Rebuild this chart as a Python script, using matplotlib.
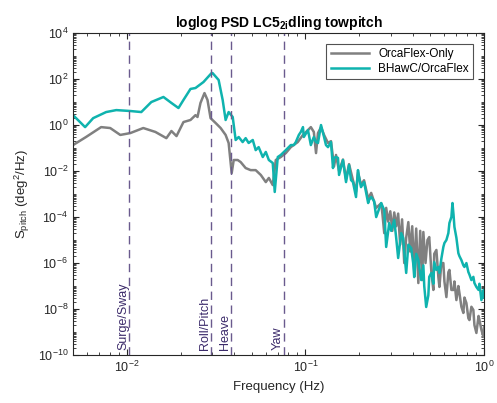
import numpy as np
import matplotlib
matplotlib.use("Agg")
import matplotlib.pyplot as plt
from matplotlib.ticker import LogLocator, NullFormatter

plt.rcParams['font.family'] = ['Liberation Sans', 'DejaVu Sans']
plt.rcParams['mathtext.fontset'] = 'custom'
plt.rcParams['mathtext.rm'] = 'Liberation Sans'
plt.rcParams['mathtext.it'] = 'Liberation Sans:italic'
plt.rcParams['mathtext.bf'] = 'Liberation Sans:bold'

# ---------------- data (frequency in Hz, PSD as log10 of deg^2/Hz) ----------------
orca_freq = [0.00500, 0.00591, 0.00718, 0.00807, 0.00919, 0.01045, 0.01236, 0.01445,
             0.01665, 0.01777, 0.01897, 0.02075, 0.02272, 0.02423, 0.02487, 0.02584,
             0.02721, 0.02829, 0.02943, 0.03140, 0.03351, 0.03573, 0.03715, 0.03864,
             0.03966, 0.04175, 0.04339, 0.04626, 0.04933, 0.05265, 0.05623, 0.05998,
             0.06237, 0.06561, 0.06823, 0.07278, 0.07762, 0.08279, 0.09057, 0.09683,
             0.1033, 0.1072, 0.1114, 0.1146, 0.1175, 0.1222, 0.1271, 0.1337, 0.1390,
             0.1445, 0.1483, 0.1542, 0.1622, 0.1687, 0.1754, 0.1845, 0.1919, 0.1968,
             0.2046, 0.2128, 0.2244, 0.2333, 0.2489, 0.2655, 0.2700, 0.2761, 0.2831,
             0.2904, 0.2985, 0.3065, 0.3141, 0.3222, 0.3304, 0.3390, 0.3475, 0.3573,
             0.3664, 0.3767, 0.3860, 0.3960, 0.4064, 0.4169, 0.4285, 0.4390, 0.4510,
             0.4571, 0.4700, 0.4820, 0.4932, 0.5070, 0.5200, 0.5260, 0.5408, 0.5546,
             0.5623, 0.5768, 0.5916, 0.5998, 0.6152, 0.6310, 0.6397, 0.6561, 0.6745,
             0.6823, 0.6998, 0.7178, 0.7278, 0.7464, 0.7656, 0.7762, 0.7962, 0.8166,
             0.8279, 0.8492, 0.8710, 0.8831, 0.9057, 0.9311, 0.9419, 0.9661, 0.9931,
             1.0]
orca_log_psd = [-0.87, -0.52, -0.09, -0.13, -0.43, -0.35, -0.13, -0.30,
                -0.57, -0.26, -0.48, 0.13, 0.22, 0.43, 0.35, 0.96,
                1.39, 1.09, 0.30, 0.09, -0.13, -0.43, -0.78, -2.09,
                -1.52, -1.52, -1.61, -1.87, -1.96, -1.96, -2.17, -2.48,
                -2.30, -2.61, -1.52, -1.39, -1.22, -0.96, -0.74, -0.43,
                -0.22, -0.09, -0.30, -1.22, -0.35, -0.09, -0.43, -0.78, -0.70,
                -1.80, -1.30, -2.00, -1.50, -2.35, -1.70, -2.40, -2.90, -2.05,
                -2.60, -2.40, -3.20, -2.95, -3.60, -3.40, -3.90, -4.70, -3.60,
                -4.20, -3.75, -4.60, -3.80, -4.40, -3.85, -5.20, -4.10, -6.00,
                -4.90, -4.22, -5.50, -4.40, -6.30, -4.50, -6.87, -4.60, -6.74,
                -4.65, -6.00, -5.00, -4.87, -6.40, -7.17, -5.60, -5.43, -6.60,
                -7.04, -6.00, -6.00, -6.80, -7.48, -6.40, -6.30, -7.17, -7.17,
                -6.80, -7.61, -7.00, -7.30, -7.90, -8.17, -7.50, -7.74, -8.40,
                -8.48, -7.90, -8.04, -8.70, -9.04, -8.30, -8.48, -8.90, -9.22,
                -8.78]

bhawc_freq = [0.00500, 0.00584, 0.00648, 0.00766, 0.00873, 0.01045, 0.01205, 0.01371,
              0.01603, 0.01777, 0.01946, 0.02075, 0.02272, 0.02423, 0.02686, 0.02981,
              0.03020, 0.03265, 0.03440, 0.03573, 0.03715, 0.03915, 0.04067, 0.04229,
              0.04450, 0.04626, 0.04808, 0.05070, 0.05265, 0.05470, 0.05768, 0.05998,
              0.06237, 0.06561, 0.06730, 0.06998, 0.07278, 0.07762, 0.08279, 0.08610,
              0.08831, 0.09183, 0.09419, 0.09683, 0.09795, 0.1033, 0.1072, 0.1114,
              0.1146, 0.1175, 0.1222, 0.1271, 0.1303, 0.1337, 0.1390, 0.1426, 0.1445,
              0.1483, 0.1521, 0.1542, 0.1622, 0.1687, 0.1754, 0.1799, 0.1845, 0.1919,
              0.1968, 0.1995, 0.2046, 0.2128, 0.2244, 0.2270, 0.2333, 0.2421, 0.2489,
              0.2655, 0.2761, 0.2831, 0.2944, 0.3020, 0.3141, 0.3220, 0.3304, 0.3436,
              0.3524, 0.3573, 0.3664, 0.3767, 0.3908, 0.4009, 0.4064, 0.4169, 0.4285,
              0.4335, 0.4446, 0.4571, 0.4624, 0.4742, 0.4875, 0.4932, 0.5070, 0.5200,
              0.5260, 0.5408, 0.5546, 0.5623, 0.5768, 0.5916, 0.5998, 0.6152, 0.6310,
              0.6397, 0.6561, 0.6653, 0.6745, 0.6823, 0.6998, 0.7178, 0.7278, 0.7464,
              0.7656, 0.7762, 0.7962, 0.8166, 0.8279, 0.8492, 0.8710, 0.8831, 0.9057,
              0.9311, 0.9419, 0.9661, 0.9931, 1.0]
bhawc_log_psd = [0.43, -0.09, 0.30, 0.565, 0.65, 0.61, 0.565, 1.00,
                 1.22, 0.96, 0.74, 1.09, 1.57, 1.61, 1.87, 2.26,
                 2.26, 1.96, 1.09, 0.22, 0.565, 0.35, -0.65, -0.52,
                 -0.74, -0.57, -0.78, -0.65, -1.09, -0.96, -1.39, -1.17,
                 -1.52, -1.65, -2.91, -1.39, -1.30, -1.09, -0.87, -0.87,
                 -0.74, -0.43, -0.30, -0.09, -0.52, -0.22, -0.87, -0.52,
                 -0.74, -0.78, 0.00, -0.52, -0.87, -0.96, -0.74, -1.87, -1.43,
                 -1.39, -1.43, -2.17, -1.52, -2.48, -1.74, -2.39, -2.48, -3.13,
                 -1.96, -2.26, -2.70, -2.48, -3.39, -3.26, -3.13, -3.30, -4.00,
                 -3.39, -3.70, -5.30, -4.26, -4.60, -4.13, -4.90, -5.78, -4.70,
                 -4.91, -5.50, -6.43, -5.20, -5.35, -6.00, -6.61, -5.60, -5.87,
                 -6.17, -6.74, -6.10, -7.00, -7.91, -7.40, -6.60, -6.43, -6.90,
                 -5.96, -6.30, -6.17, -6.43, -5.80, -5.30, -5.13, -5.00, -4.70,
                 -4.26, -4.00, -3.39, -3.90, -4.43, -4.90, -5.57, -5.70, -5.87,
                 -6.10, -6.17, -6.00, -6.39, -6.50, -6.74, -6.60, -6.87, -7.04,
                 -7.17, -6.90, -7.61, -7.17, -7.50]

mode_freqs = [0.0103, 0.0296, 0.0384, 0.076]
mode_labels = ['Surge/Sway', 'Roll/Pitch', 'Heave', 'Yaw']

series_labels = ['OrcaFlex-Only', 'BHawC/OrcaFlex']
series_colors = ['#808080', '#0fb3ae']

# ---------------- plot ----------------
fig = plt.figure(figsize=(4.97, 4.03), dpi=100)
ax = fig.add_axes([0.147, 0.119, 0.827, 0.799])

ax.loglog(orca_freq, 10.0 ** np.array(orca_log_psd), color=series_colors[0],
          lw=1.8, label=series_labels[0])
ax.loglog(bhawc_freq, 10.0 ** np.array(bhawc_log_psd), color=series_colors[1],
          lw=1.8, label=series_labels[1])

for f, lab in zip(mode_freqs, mode_labels):
    ax.axvline(f, color='#6a5a8e', ls=(0, (6, 4)), lw=1.0)
    ax.text(f, 1.6e-10, lab, rotation=90, ha='right', va='bottom',
            color='#3b2a6a', fontsize=9)

ax.set_xlim(0.005, 1)
ax.set_ylim(1e-10, 1e4)
ax.set_yticks([10.0 ** k for k in range(-10, 5, 2)])
ax.xaxis.set_minor_locator(LogLocator(base=10, subs=np.arange(2, 10), numticks=20))
ax.yaxis.set_minor_locator(LogLocator(base=10, subs=np.arange(1, 10), numticks=40))
ax.xaxis.set_minor_formatter(NullFormatter())
ax.yaxis.set_minor_formatter(NullFormatter())
ax.tick_params(which='both', direction='in', top=True, right=True,
               labelsize=9, colors='#262626')
ax.tick_params(which='major', length=4)
ax.tick_params(which='minor', length=2.5)
for s in ax.spines.values():
    s.set_color('#262626')
    s.set_linewidth(0.8)

ax.set_xlabel('Frequency (Hz)', fontsize=9.5, color='#262626')
ax.set_ylabel(r'S$_{\rm pitch}$ (deg$^2$/Hz)', fontsize=9.5, color='#262626')
ax.set_title(r'loglog PSD LC5$_{\mathbf{2i}}$dling towpitch', fontsize=10,
             fontweight='bold', pad=4)

leg = ax.legend(loc='upper right', fontsize=8.5, frameon=True, fancybox=False,
                edgecolor='#262626', borderaxespad=0.9, handlelength=3.2,
                labelspacing=0.2)
leg.get_frame().set_linewidth(0.8)

fig.savefig('out.png', dpi=100)
